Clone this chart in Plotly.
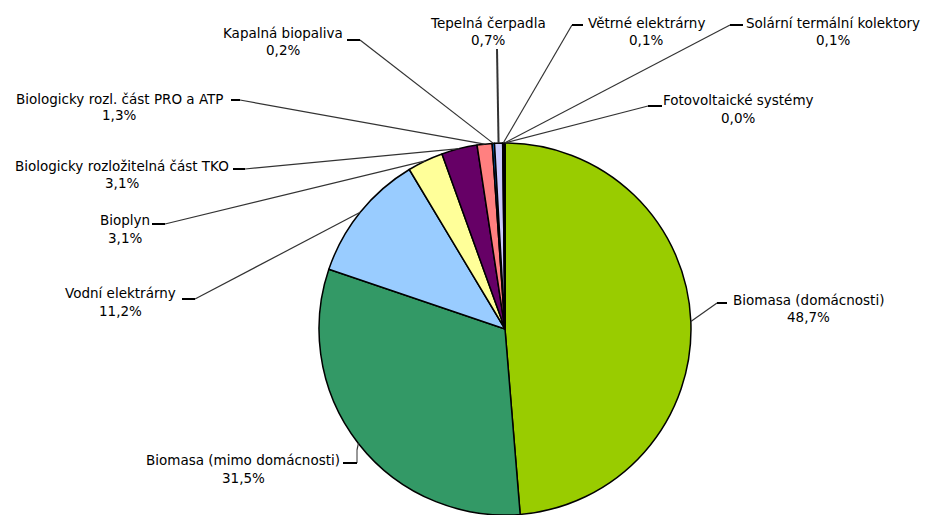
import math
import plotly.graph_objects as go

W, H = 926, 515

# ---- data ----
labels = [
    "Biomasa (domácnosti)",
    "Biomasa (mimo domácnosti)",
    "Vodní elektrárny",
    "Bioplyn",
    "Biologicky rozložitelná část TKO",
    "Biologicky rozl. část PRO a ATP",
    "Kapalná biopaliva",
    "Tepelná čerpadla",
    "Větrné elektrárny",
    "Solární termální kolektory",
    "Fotovoltaické systémy",
]
values = [48.7, 31.5, 11.2, 3.1, 3.1, 1.3, 0.2, 0.7, 0.1, 0.1, 0.0]

# ---- styles ----
colors = ["#99CC00", "#339966", "#99CCFF", "#FFFF99", "#660066", "#FF8080",
          "#0066CC", "#CCCCFF", "#000080", "#FF00FF", "#FFFF00"]

# pie geometry (pixels)
CX, CY, R = 505, 329, 186

# label layout (pixels): name centre x, name y, pct y, tick start, tick end
label_layout = [
    dict(tx=808, ny=300, py=317, t0=(727, 303), t1=(717, 303)),
    dict(tx=243, ny=460, py=478, t0=(343, 463), t1=(357, 463), bend=(357, 450)),
    dict(tx=121, ny=293, py=311, t0=(182, 299), t1=(195, 299)),
    dict(tx=125, ny=220, py=238, t0=(152, 224), t1=(165, 224)),
    dict(tx=122, ny=166, py=183, t0=(233, 169), t1=(245, 169)),
    dict(tx=119, ny=99, py=115, t0=(231, 100), t1=(240, 100)),
    dict(tx=283, ny=33, py=50, t0=(347, 40), t1=(360, 40)),
    dict(tx=488, ny=23, py=40, t0=None, t1=(497, 49)),
    dict(tx=646, ny=23, py=40, t0=(583, 25), t1=(572, 25)),
    dict(tx=833, ny=23, py=40, t0=(743, 25), t1=(730, 25)),
    dict(tx=738, ny=100, py=118, t0=(662, 106), t1=(648, 106)),
]


def px(x):
    return x / W


def py_(y):
    return 1 - y / H


fig = go.Figure(go.Pie(
    labels=labels,
    values=values,
    sort=False,
    direction="clockwise",
    rotation=0,
    textinfo="none",
    hoverinfo="label+percent",
    marker=dict(colors=colors, line=dict(color="#000000", width=1.5)),
    domain=dict(x=[px(CX - R), px(CX + R)], y=[py_(CY + R), py_(CY - R)]),
    showlegend=False,
))

total = sum(values)
cum = 0.0
shapes = []
annotations = []
font = dict(family="DejaVu Sans, Arial, sans-serif", size=13.5, color="#000000")
for lab, val, lay in zip(labels, values, label_layout):
    mid = (cum + val / 2) / total
    cum += val
    ang = 2 * math.pi * mid
    rx = CX + R * math.sin(ang)
    ry = CY - R * math.cos(ang)
    sx, sy = lay["t1"]
    if "bend" in lay:
        bx, by = lay["bend"]
        shapes.append(dict(type="line", xref="paper", yref="paper",
                           x0=px(sx), y0=py_(sy), x1=px(bx), y1=py_(by),
                           line=dict(color="#333333", width=1)))
        sx, sy = bx, by
    shapes.append(dict(type="line", xref="paper", yref="paper",
                       x0=px(sx), y0=py_(sy), x1=px(rx), y1=py_(ry),
                       line=dict(color="#333333", width=1.2 if lay["t0"] else 2)))
    if lay["t0"]:
        x0, y0 = lay["t0"]
        x1, y1 = lay["t1"]
        shapes.append(dict(type="line", xref="paper", yref="paper",
                           x0=px(x0), y0=py_(y0), x1=px(x1), y1=py_(y1),
                           line=dict(color="#000000", width=2)))
    pct = f"{val:.1f}".replace(".", ",") + "%"
    annotations.append(dict(x=px(lay["tx"]), y=py_(lay["ny"]), xref="paper", yref="paper",
                            text=lab, showarrow=False, font=font,
                            xanchor="center", yanchor="middle"))
    annotations.append(dict(x=px(lay["tx"]), y=py_(lay["py"]), xref="paper", yref="paper",
                            text=pct, showarrow=False, font=font,
                            xanchor="center", yanchor="middle"))

fig.update_layout(
    width=W, height=H,
    margin=dict(l=0, r=0, t=0, b=0),
    paper_bgcolor="#FFFFFF",
    plot_bgcolor="#FFFFFF",
    shapes=shapes,
    annotations=annotations,
)

fig.write_html("out.html",
               config={"displayModeBar": False},
               post_script="document.body.style.margin='0';document.body.style.overflow='hidden';")
